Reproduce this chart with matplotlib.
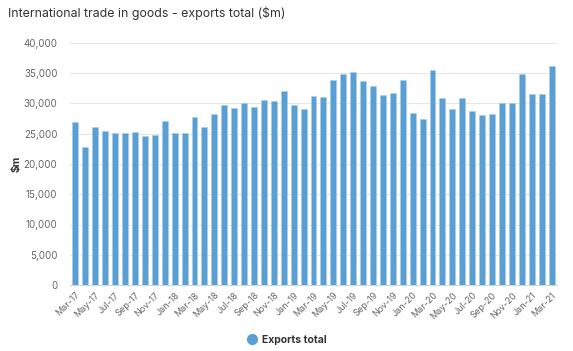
import matplotlib
matplotlib.use("Agg")
import matplotlib.pyplot as plt
from matplotlib.lines import Line2D

months = ["Mar-17","Apr-17","May-17","Jun-17","Jul-17","Aug-17","Sep-17","Oct-17","Nov-17","Dec-17",
          "Jan-18","Feb-18","Mar-18","Apr-18","May-18","Jun-18","Jul-18","Aug-18","Sep-18","Oct-18",
          "Nov-18","Dec-18","Jan-19","Feb-19","Mar-19","Apr-19","May-19","Jun-19","Jul-19","Aug-19",
          "Sep-19","Oct-19","Nov-19","Dec-19","Jan-20","Feb-20","Mar-20","Apr-20","May-20","Jun-20",
          "Jul-20","Aug-20","Sep-20","Oct-20","Nov-20","Dec-20","Jan-21","Feb-21","Mar-21"]
exports = [26880, 22860, 26150, 25500, 25050, 25050, 25300, 24570, 24740, 27140,
           25170, 25050, 27800, 26050, 28250, 29670, 29230, 30000, 29450, 30550,
           30440, 32090, 29670, 29120, 31210, 31100, 33960, 34950, 35280, 33730,
           32860, 31330, 31750, 33960, 28360, 27470, 35500, 30990, 29120, 30990,
           28690, 28030, 28250, 30000, 30000, 34950, 31650, 31540, 36150]
yticks = [0, 5000, 10000, 15000, 20000, 25000, 30000, 35000, 40000]

plt.rcParams['font.family'] = ['Inter', 'DejaVu Sans']

W, H = 573, 351
fig = plt.figure(figsize=(W/100, H/100), dpi=100)
ax = fig.add_axes([70/W, 1-285/H, (557-70)/W, (285-43)/H])

color = "#5a9fd4"
x = list(range(len(months)))
ax.bar(x, exports, width=0.6, color=color, edgecolor="#a9cdea", linewidth=0.4, zorder=3)
ax.set_xlim(-0.55, len(months)-0.45)
ax.set_ylim(0, 40000)
ax.set_yticks(yticks)
ax.set_yticklabels([f"{v:,}" for v in yticks], fontsize=7, color="#666666")
ax.grid(axis='y', color="#e6e6e6", linewidth=0.8, zorder=0)
ax.tick_params(axis='y', length=0, pad=9)
ax.set_xticks(x[::2])
ax.set_xticklabels(months[::2], rotation=45, ha='right', rotation_mode='anchor',
                   fontsize=6.5, color="#666666")
ax.tick_params(axis='x', length=0, pad=4)
for s in ["top", "right", "left"]:
    ax.spines[s].set_visible(False)
ax.spines["bottom"].set_color("#ccd6eb")
ax.spines["bottom"].set_linewidth(0.8)
ax.set_ylabel("$m", fontsize=7.5, fontweight="bold", color="#333333")
ax.yaxis.set_label_coords((22-70)/487, 0.5)

fig.text(8/W, 1-13/H, "International trade in goods - exports total ($m)",
         fontsize=8.9, color="#333333", va="center", ha="left")

handle = Line2D([], [], marker='o', linestyle='None', markersize=7,
                markerfacecolor=color, markeredgecolor=color)
fig.legend([handle], ["Exports total"], loc="center", bbox_to_anchor=(0.5, 1-340/H),
           frameon=False, prop={'size': 7.5, 'weight': 'bold'}, labelcolor="#333333",
           handletextpad=0.45, handlelength=1.0)

fig.savefig("out.png", dpi=100)
